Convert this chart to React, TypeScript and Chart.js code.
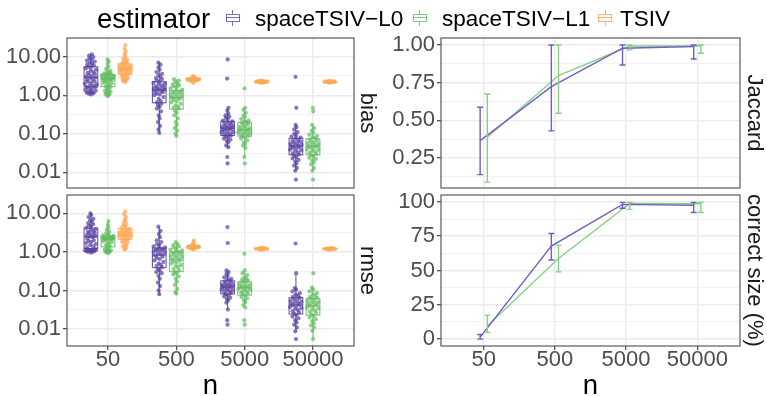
import React, { useEffect, useRef } from 'react';
import { Chart, registerables } from 'chart.js';
Chart.register(...registerables);

const FONT = '"Liberation Sans", Arial, Helvetica, sans-serif';

// ---------- labels ----------
const nLabels = ['50', '500', '5000', '50000'];
const estimatorLabels = ['spaceTSIV−L0', 'spaceTSIV−L1', 'TSIV'];
const legendTitle = 'estimator';
const xTitle = 'n';
const logTickValues = [0.01, 0.1, 1, 10];
const logTickLabels = ['0.01', '0.10', '1.00', '10.00'];
const logMinorValues = [0.03162, 0.3162, 3.162];
const jaccardTickValues = [0.25, 0.5, 0.75, 1];
const jaccardTickLabels = ['0.25', '0.50', '0.75', '1.00'];
const jaccardMinorValues = [0.125, 0.375, 0.625, 0.875];
const sizeTickValues = [0, 25, 50, 75, 100];
const sizeTickLabels = ['0', '25', '50', '75', '100'];
const sizeMinorValues = [12.5, 37.5, 62.5, 87.5];

// ---------- bias (per n) ----------
const biasL0_50 = [1.05,1.1,1.12,1.18,1.2,1.25,1.3,1.38,1.42,1.5,1.6,1.65,1.75,1.8,1.9,2.0,2.1,2.25,2.3,2.5,2.6,2.8,2.9,3.1,3.2,3.4,3.6,3.8,4.0,4.3,4.6,4.9,5.2,5.5,5.9,6.2,6.6,7.0,7.5,7.9,8.4,9.0,9.8,10.6,11.5];
const biasL1_50 = [0.95,1.0,1.05,1.1,1.12,1.2,1.25,1.3,1.4,1.5,1.6,1.7,1.8,1.9,2.0,2.1,2.2,2.3,2.4,2.5,2.55,2.6,2.7,2.75,2.8,2.85,2.9,3.0,3.05,3.1,3.2,3.3,3.4,3.5,3.6,3.7,3.8,4.0,4.3,4.8,5.5,6.5,7.5,8.5];
const biasTSIV_50 = [2.2,2.3,2.4,2.5,2.6,2.7,2.8,3.0,3.1,3.2,3.4,3.5,3.6,3.8,3.9,4.0,4.2,4.3,4.4,4.5,4.6,4.7,4.8,4.9,5.0,5.1,5.2,5.3,5.5,5.6,5.8,6.0,6.2,6.5,6.8,7.0,7.4,7.8,8.3,9.0,10.0,11.5,13.5,16.0,20.0];
const biasL0_500 = [0.105,0.13,0.16,0.2,0.25,0.3,0.38,0.45,0.5,0.55,0.6,0.65,0.7,0.8,0.9,1.0,1.05,1.1,1.2,1.25,1.3,1.35,1.4,1.45,1.5,1.55,1.6,1.7,1.8,1.9,2.0,2.1,2.2,2.4,2.6,2.8,3.0,3.3,3.6,4.0,4.6,5.3,6.2,7.0];
const biasL1_500 = [0.088,0.1,0.12,0.14,0.17,0.2,0.25,0.3,0.35,0.4,0.45,0.48,0.5,0.55,0.6,0.65,0.7,0.75,0.8,0.85,0.88,0.9,0.95,1.0,1.05,1.1,1.15,1.2,1.25,1.3,1.4,1.5,1.6,1.7,1.8,1.9,2.0,2.2,2.4,2.6];
const biasTSIV_500 = [2.1,2.2,2.3,2.35,2.4,2.4,2.45,2.45,2.5,2.5,2.5,2.55,2.55,2.55,2.6,2.6,2.6,2.65,2.65,2.7,2.7,2.75,2.8,2.9,3.0,3.2];
const biasL0_5000 = [0.017,0.025,0.045,0.05,0.06,0.065,0.07,0.075,0.08,0.085,0.09,0.095,0.1,0.1,0.11,0.11,0.12,0.12,0.13,0.13,0.14,0.14,0.15,0.15,0.16,0.16,0.17,0.18,0.19,0.2,0.21,0.22,0.24,0.26,0.28,0.3,0.34,0.4,0.47,2.7,8.5];
const biasL1_5000 = [0.017,0.025,0.043,0.05,0.055,0.06,0.068,0.075,0.08,0.085,0.09,0.095,0.1,0.1,0.105,0.11,0.115,0.12,0.125,0.13,0.13,0.14,0.14,0.15,0.16,0.17,0.18,0.19,0.2,0.21,0.22,0.24,0.27,0.3,0.35,0.42,0.47,1.5];
const biasTSIV_5000 = [2.1,2.15,2.15,2.18,2.2,2.2,2.2,2.22,2.22,2.24,2.24,2.24,2.25,2.26,2.26,2.28,2.28,2.3,2.3,2.32,2.35,2.4];
const biasL0_50000 = [0.0065,0.011,0.013,0.015,0.017,0.019,0.021,0.023,0.025,0.027,0.029,0.031,0.033,0.035,0.037,0.039,0.041,0.043,0.045,0.047,0.049,0.05,0.052,0.055,0.058,0.06,0.063,0.066,0.07,0.075,0.08,0.085,0.09,0.1,0.11,0.13,0.15,0.17,0.47,3.0];
const biasL1_50000 = [0.0065,0.011,0.013,0.016,0.018,0.02,0.022,0.024,0.026,0.028,0.03,0.032,0.034,0.036,0.038,0.04,0.042,0.044,0.046,0.048,0.05,0.052,0.054,0.057,0.06,0.063,0.067,0.071,0.076,0.082,0.088,0.095,0.105,0.12,0.14,0.17,0.38,0.47];
const biasTSIV_50000 = [2.12,2.16,2.18,2.2,2.2,2.21,2.22,2.23,2.24,2.24,2.25,2.25,2.26,2.27,2.28,2.3,2.32,2.36];

// ---------- rmse (per n) ----------
const rmseL0_50 = [0.95,1.0,1.02,1.05,1.05,1.08,1.1,1.1,1.12,1.15,1.2,1.3,1.4,1.5,1.6,1.7,1.8,1.9,2.0,2.2,2.4,2.5,2.6,2.7,2.8,3.0,3.1,3.3,3.5,3.7,3.9,4.2,4.5,4.8,5.2,5.6,6.0,6.6,7.2,8.0,9.0,10.0];
const rmseL1_50 = [0.92,0.98,1.0,1.02,1.05,1.08,1.1,1.15,1.2,1.3,1.4,1.5,1.6,1.7,1.8,1.9,2.0,2.05,2.1,2.15,2.2,2.2,2.25,2.3,2.3,2.35,2.4,2.45,2.5,2.55,2.6,2.7,2.8,3.0,3.3,3.7,4.2,5.0,6.3];
const rmseTSIV_50 = [1.15,1.2,1.3,1.4,1.5,1.6,1.7,1.8,1.9,2.0,2.1,2.2,2.3,2.4,2.5,2.55,2.6,2.7,2.75,2.8,2.85,2.9,3.0,3.1,3.2,3.3,3.4,3.5,3.6,3.8,4.0,4.2,4.5,4.8,5.2,5.7,6.3,7.0,8.0,9.5,11.0];
const rmseL0_500 = [0.08,0.1,0.13,0.16,0.2,0.24,0.28,0.3,0.33,0.36,0.4,0.43,0.46,0.5,0.55,0.6,0.65,0.7,0.75,0.8,0.85,0.9,0.95,1.0,1.05,1.1,1.12,1.15,1.2,1.25,1.3,1.4,1.5,1.6,1.8,2.0,2.4,2.9,3.5,4.5];
const rmseL1_500 = [0.083,0.09,0.11,0.14,0.17,0.2,0.23,0.26,0.28,0.3,0.33,0.36,0.4,0.43,0.46,0.5,0.53,0.56,0.6,0.63,0.66,0.7,0.74,0.78,0.82,0.86,0.9,0.95,1.0,1.05,1.1,1.15,1.2,1.3,1.4,1.5,1.6,1.8];
const rmseTSIV_500 = [1.15,1.2,1.22,1.25,1.27,1.28,1.3,1.3,1.32,1.32,1.34,1.35,1.35,1.36,1.38,1.4,1.42,1.45,1.5,1.55,1.65,1.8,2.0];
const rmseL0_5000 = [0.013,0.017,0.032,0.048,0.055,0.06,0.065,0.07,0.075,0.08,0.085,0.09,0.095,0.1,0.1,0.105,0.11,0.115,0.12,0.125,0.13,0.13,0.135,0.14,0.145,0.15,0.16,0.17,0.18,0.19,0.2,0.22,0.24,0.27,0.3,0.33,1.7,4.4];
const rmseL1_5000 = [0.013,0.017,0.036,0.042,0.05,0.056,0.062,0.068,0.074,0.08,0.085,0.09,0.095,0.1,0.105,0.11,0.115,0.12,0.12,0.125,0.13,0.135,0.14,0.15,0.16,0.17,0.18,0.19,0.2,0.22,0.25,0.28,0.33,0.9];
const rmseTSIV_5000 = [1.14,1.16,1.17,1.18,1.19,1.19,1.2,1.2,1.2,1.21,1.21,1.22,1.22,1.23,1.24,1.25,1.27];
const rmseL0_50000 = [0.0055,0.0087,0.011,0.013,0.015,0.017,0.019,0.021,0.023,0.025,0.027,0.029,0.031,0.033,0.035,0.037,0.039,0.041,0.043,0.045,0.047,0.049,0.051,0.054,0.057,0.06,0.064,0.068,0.072,0.078,0.085,0.095,0.105,0.115,0.28,1.65];
const rmseL1_50000 = [0.0055,0.009,0.011,0.0125,0.014,0.016,0.018,0.02,0.022,0.024,0.026,0.028,0.03,0.032,0.034,0.036,0.038,0.04,0.042,0.044,0.046,0.048,0.05,0.053,0.056,0.06,0.064,0.068,0.073,0.079,0.086,0.095,0.105,0.118,0.28];
const rmseTSIV_50000 = [1.14,1.16,1.17,1.18,1.19,1.2,1.2,1.2,1.21,1.21,1.22,1.22,1.23,1.24,1.26];

// ---------- Jaccard ----------
const jaccardL0 = [0.365, 0.723, 0.978, 0.99];
const jaccardL0Lo = [0.14, 0.43, 0.867, 0.907];
const jaccardL0Hi = [0.587, 1.0, 1.0, 1.0];
const jaccardL1 = [0.388, 0.797, 0.993, 0.993];
const jaccardL1Lo = [0.09, 0.547, 0.967, 0.945];
const jaccardL1Hi = [0.675, 1.0, 1.0, 1.0];

// ---------- correct size (%) ----------
const sizeL0 = [1.5, 67.8, 98.2, 97.5];
const sizeL0Lo = [0, 57.6, 95.3, 92.3];
const sizeL0Hi = [3.4, 77, 99.6, 99.6];
const sizeL1 = [9.5, 58.8, 98.9, 98.6];
const sizeL1Lo = [4.9, 49, 94.5, 92.3];
const sizeL1Hi = [17.5, 68.5, 99.6, 99.6];

// ---------- styling ----------
const COL = [[84, 62, 158], [96, 188, 96], [253, 168, 86]];
const LINE_COL = ['rgb(112,96,190)', 'rgb(135,208,135)'];
const rgba = (c: number[], a: number) => `rgba(${c[0]},${c[1]},${c[2]},${a})`;
const LEFT_DODGE = [-0.25, 0, 0.25];
const RIGHT_DODGE = [-0.05, 0.05];
const QR_WIDTH = 0.1;
const BOX_HW = 0.1;
const TICK_FONT = { family: FONT, size: 22, lineHeight: 1 };

function vdc(n: number) {
  let v = 0, d = 1;
  while (n > 0) { d *= 2; v += (n % 2) / d; n = Math.floor(n / 2); }
  return v;
}

function quasiOffsets(vals: number[]) {
  const ly = vals.map((v) => Math.log10(v));
  const n = ly.length;
  const mean = ly.reduce((a, b) => a + b, 0) / n;
  const sd = Math.sqrt(ly.reduce((a, b) => a + (b - mean) * (b - mean), 0) / (n - 1));
  const s = [...ly].sort((a, b) => a - b);
  const q = (p: number) => { const h = (n - 1) * p; const lo = Math.floor(h); return s[lo] + (h - lo) * ((s[Math.min(lo + 1, n - 1)]) - s[lo]); };
  const iqr = q(0.75) - q(0.25);
  let bw = 0.9 * Math.min(sd, iqr / 1.34 || sd) * Math.pow(n, -0.2) * 0.8;
  if (!(bw > 0)) bw = 0.01;
  const dens = ly.map((y) => ly.reduce((a, yy) => a + Math.exp(-0.5 * ((y - yy) / bw) ** 2), 0));
  const maxD = Math.max(...dens);
  const order = ly.map((y, i) => i).sort((a, b) => ly[a] - ly[b] || a - b);
  const rank: number[] = new Array(n);
  order.forEach((idx, r) => { rank[idx] = r + 1; });
  return ly.map((y, i) => (vdc(rank[i]) - 0.5) * 2 * QR_WIDTH * (dens[i] / maxD));
}

function boxStats(vals: number[]) {
  const s = vals.map((v) => Math.log10(v)).sort((a, b) => a - b);
  const n = s.length;
  const q = (p: number) => { const h = (n - 1) * p; const lo = Math.floor(h); return s[lo] + (h - lo) * ((s[Math.min(lo + 1, n - 1)]) - s[lo]); };
  const q1 = q(0.25), med = q(0.5), q3 = q(0.75);
  const iqr = q3 - q1;
  const lo = s.filter((v) => v >= q1 - 1.5 * iqr)[0];
  const hiArr = s.filter((v) => v <= q3 + 1.5 * iqr);
  const hi = hiArr[hiArr.length - 1];
  return { q1, med, q3, lo, hi };
}

function gridOpts(majorCount: number, showTicks: boolean) {
  return {
    color: (ctx: any) => (ctx.index >= majorCount ? '#F2F2F2' : '#EBEBEB'),
    lineWidth: (ctx: any) => (ctx.index >= majorCount ? 1 : 1.4),
    drawTicks: showTicks,
    tickLength: 4,
    tickColor: (ctx: any) => (ctx.index >= majorCount ? 'rgba(0,0,0,0)' : '#333333'),
    tickWidth: 1.1,
  };
}

function xScale(showX: boolean) {
  return {
    type: 'linear',
    min: 0.4,
    max: 4.6,
    afterBuildTicks: (s: any) => { s.ticks = [1, 2, 3, 4].map((v) => ({ value: v })); },
    afterFit: (s: any) => { s.height = showX ? 50 : 0; s.paddingLeft = 0; s.paddingRight = 0; },
    grid: { color: '#EBEBEB', lineWidth: 1.4, drawTicks: showX, tickLength: 4, tickColor: '#333333', tickWidth: 1.1 },
    border: { display: false },
    ticks: {
      display: showX, padding: -1, autoSkip: false, maxRotation: 0, color: '#4D4D4D',
      font: TICK_FONT,
      callback: (v: number) => nLabels[Math.round(v) - 1],
    },
  };
}

function yScale(type: string, min: number, max: number, majors: number[], labels: string[], minors: number[], width: number) {
  return {
    type,
    min,
    max,
    afterBuildTicks: (s: any) => { s.ticks = [...majors, ...minors].map((v) => ({ value: v })); },
    afterFit: (s: any) => { s.width = width; s.paddingTop = 0; s.paddingBottom = 0; },
    grid: gridOpts(majors.length, true),
    border: { display: false },
    ticks: {
      padding: 2, autoSkip: false, color: '#4D4D4D',
      font: TICK_FONT,
      callback: (v: number, i: number) => (i < labels.length ? labels[i] : ''),
    },
  };
}

function extrasPlugin(strip: string, stripX: number, showTitle: boolean) {
  return {
    id: 'extras',
    afterDraw(chart: any) {
      const { ctx, chartArea: a } = chart;
      ctx.save();
      ctx.strokeStyle = '#5a5a5a';
      ctx.lineWidth = 1.2;
      ctx.strokeRect(a.left, a.top, a.right - a.left, a.bottom - a.top);
      ctx.fillStyle = '#1A1A1A';
      ctx.font = `22px ${FONT}`;
      ctx.textAlign = 'center';
      ctx.textBaseline = 'middle';
      ctx.translate(a.right + stripX, (a.top + a.bottom) / 2);
      ctx.rotate(Math.PI / 2);
      ctx.fillText(strip, 0, 0);
      ctx.restore();
      if (showTitle) {
        ctx.save();
        ctx.fillStyle = '#000000';
        ctx.font = `27.5px ${FONT}`;
        ctx.textAlign = 'center';
        ctx.textBaseline = 'alphabetic';
        ctx.fillText(xTitle, (a.left + a.right) / 2, chart.height - 2);
        ctx.restore();
      }
    },
  };
}

function makeLeft(canvas: HTMLCanvasElement, groups: number[][][], min: number, max: number, strip: string, showX: boolean) {
  const datasets = groups.map((est, e) => ({
    label: estimatorLabels[e],
    data: est.flatMap((vals, i) => {
      const off = quasiOffsets(vals);
      return vals.map((v, k) => ({ x: i + 1 + LEFT_DODGE[e] + off[k], y: v }));
    }),
    backgroundColor: rgba(COL[e], 0.7),
    borderWidth: 0,
    pointRadius: 2.1,
    pointHoverRadius: 2.1,
  }));
  const boxPlugin = {
    id: 'boxes',
    afterDatasetsDraw(chart: any) {
      const { ctx, chartArea: a, scales } = chart;
      const x = scales.x, y = scales.y;
      ctx.save();
      ctx.beginPath();
      ctx.rect(a.left, a.top, a.right - a.left, a.bottom - a.top);
      ctx.clip();
      groups.forEach((est, e) => est.forEach((vals, i) => {
        const st = boxStats(vals);
        const c = i + 1 + LEFT_DODGE[e];
        const xl = x.getPixelForValue(c - BOX_HW);
        const xr = x.getPixelForValue(c + BOX_HW);
        const xc = x.getPixelForValue(c);
        const p = (lv: number) => y.getPixelForValue(Math.pow(10, lv));
        ctx.strokeStyle = rgba(COL[e], 0.85);
        ctx.lineWidth = 1.1;
        ctx.strokeRect(xl, p(st.q3), xr - xl, p(st.q1) - p(st.q3));
        ctx.beginPath();
        ctx.moveTo(xl, p(st.med)); ctx.lineTo(xr, p(st.med));
        ctx.moveTo(xc, p(st.q3)); ctx.lineTo(xc, p(st.hi));
        ctx.moveTo(xc, p(st.q1)); ctx.lineTo(xc, p(st.lo));
        ctx.stroke();
      }));
      ctx.restore();
    },
  };
  return new Chart(canvas, {
    type: 'scatter',
    data: { datasets } as any,
    options: {
      responsive: false,
      animation: false,
      devicePixelRatio: 1,
      events: [],
      layout: { padding: { top: 10, right: 31, bottom: showX ? 0 : 5, left: 0 } },
      plugins: { legend: { display: false }, tooltip: { enabled: false } },
      scales: {
        x: xScale(showX),
        y: yScale('logarithmic', min, max, logTickValues, logTickLabels, logMinorValues, 67),
      },
    } as any,
    plugins: [boxPlugin, extrasPlugin(strip, 13, showX)],
  });
}

function makeRight(canvas: HTMLCanvasElement, means: number[][], los: number[][], his: number[][], min: number, max: number,
  majors: number[], labels: string[], minors: number[], strip: string, showX: boolean) {
  const datasets = means.map((m, e) => ({
    label: estimatorLabels[e],
    data: m.map((v, i) => ({ x: i + 1 + RIGHT_DODGE[e], y: v })),
    borderColor: LINE_COL[e],
    borderWidth: 1.4,
    pointRadius: 0,
    showLine: true,
    fill: false,
  }));
  const errPlugin = {
    id: 'errbars',
    afterDatasetsDraw(chart: any) {
      const { ctx, scales } = chart;
      const x = scales.x, y = scales.y;
      ctx.save();
      means.forEach((m, e) => m.forEach((_, i) => {
        const xc = x.getPixelForValue(i + 1 + RIGHT_DODGE[e]);
        const yl = y.getPixelForValue(los[e][i]);
        const yh = y.getPixelForValue(his[e][i]);
        ctx.strokeStyle = LINE_COL[e];
        ctx.lineWidth = 1.4;
        ctx.beginPath();
        ctx.moveTo(xc, yl); ctx.lineTo(xc, yh);
        ctx.moveTo(xc - 3, yl); ctx.lineTo(xc + 3, yl);
        ctx.moveTo(xc - 3, yh); ctx.lineTo(xc + 3, yh);
        ctx.stroke();
      }));
      ctx.restore();
    },
  };
  return new Chart(canvas, {
    type: 'scatter',
    data: { datasets } as any,
    options: {
      responsive: false,
      animation: false,
      devicePixelRatio: 1,
      events: [],
      layout: { padding: { top: 10, right: 27, bottom: showX ? 0 : 5, left: 0 } },
      plugins: { legend: { display: false }, tooltip: { enabled: false } },
      scales: {
        x: xScale(showX),
        y: yScale('linear', min, max, majors, labels, minors, 51),
      },
    } as any,
    plugins: [errPlugin, extrasPlugin(strip, 14, showX)],
  });
}

function LegendKey({ cx, cy, color }: { cx: number; cy: number; color: string }) {
  const w = 14, bh = 8, wh = 4;
  const base: React.CSSProperties = { position: 'absolute', boxSizing: 'border-box' };
  return (
    <>
      <div style={{ ...base, left: cx - 0.5, top: cy - bh / 2 - wh, width: 1, height: wh, background: color }} />
      <div style={{ ...base, left: cx - w / 2, top: cy - bh / 2, width: w, height: bh, border: `1px solid ${color}` }} />
      <div style={{ ...base, left: cx - w / 2, top: cy - 0.5, width: w, height: 1, background: color }} />
      <div style={{ ...base, left: cx - 0.5, top: cy + bh / 2, width: 1, height: wh, background: color }} />
    </>
  );
}

export default function App() {
  const tl = useRef<HTMLCanvasElement>(null);
  const bl = useRef<HTMLCanvasElement>(null);
  const tr = useRef<HTMLCanvasElement>(null);
  const br = useRef<HTMLCanvasElement>(null);

  useEffect(() => {
    const biasGroups = [
      [biasL0_50, biasL0_500, biasL0_5000, biasL0_50000],
      [biasL1_50, biasL1_500, biasL1_5000, biasL1_50000],
      [biasTSIV_50, biasTSIV_500, biasTSIV_5000, biasTSIV_50000],
    ];
    const rmseGroups = [
      [rmseL0_50, rmseL0_500, rmseL0_5000, rmseL0_50000],
      [rmseL1_50, rmseL1_500, rmseL1_5000, rmseL1_50000],
      [rmseTSIV_50, rmseTSIV_500, rmseTSIV_5000, rmseTSIV_50000],
    ];
    const charts = [
      makeLeft(tl.current!, biasGroups, 0.00392, 30.5, 'bias', false),
      makeLeft(bl.current!, rmseGroups, 0.00363, 29.8, 'rmse', true),
      makeRight(tr.current!, [jaccardL0, jaccardL1], [jaccardL0Lo, jaccardL1Lo], [jaccardL0Hi, jaccardL1Hi],
        0.051, 1.046, jaccardTickValues, jaccardTickLabels, jaccardMinorValues, 'Jaccard', false),
      makeRight(br.current!, [sizeL0, sizeL1], [sizeL0Lo, sizeL1Lo], [sizeL0Hi, sizeL1Hi],
        -5, 105, sizeTickValues, sizeTickLabels, sizeMinorValues, 'correct size (%)', true),
    ];
    return () => charts.forEach((c) => c.destroy());
  }, []);

  const abs = (l: number, t: number): React.CSSProperties => ({ position: 'absolute', left: l, top: t });
  const txt = (l: number, t: number, size: number): React.CSSProperties => ({
    ...abs(l, t), fontFamily: FONT, fontSize: size, lineHeight: `${size}px`, whiteSpace: 'nowrap', color: '#000',
  });

  return (
    <div style={{ position: 'fixed', left: 0, top: 0, width: 767, height: 396, background: '#fff', overflow: 'hidden' }}>
      <canvas ref={tl} width={385} height={165} style={abs(0, 28)} />
      <canvas ref={bl} width={385} height={211} style={abs(0, 185)} />
      <canvas ref={tr} width={377} height={165} style={abs(390, 28)} />
      <canvas ref={br} width={377} height={211} style={abs(390, 185)} />
      <div style={txt(97, 5, 27.5)}>{legendTitle}</div>
      <LegendKey cx={232.5} cy={17.5} color={rgba(COL[0], 0.75)} />
      <div style={txt(255, 8, 22.5)}>{estimatorLabels[0]}</div>
      <LegendKey cx={419.5} cy={17.5} color={rgba(COL[1], 0.8)} />
      <div style={txt(442, 8, 22.5)}>{estimatorLabels[1]}</div>
      <LegendKey cx={605} cy={17.5} color={rgba(COL[2], 0.85)} />
      <div style={txt(620, 8, 22.5)}>{estimatorLabels[2]}</div>
    </div>
  );
}
